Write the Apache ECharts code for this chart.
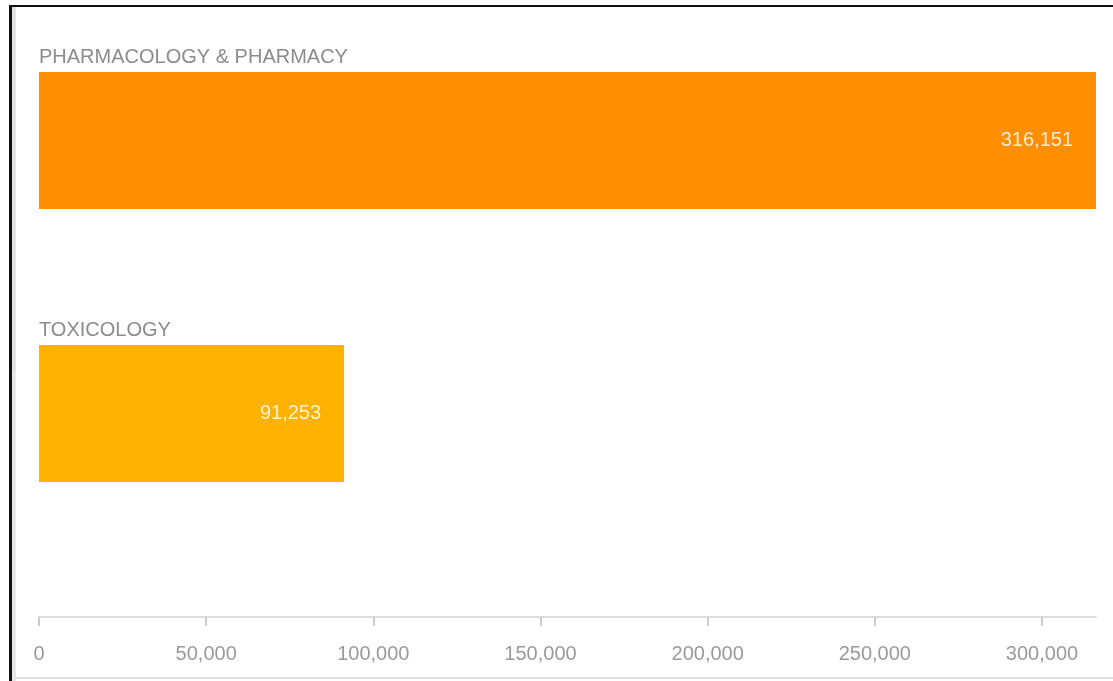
<!DOCTYPE html>
<html>
<head>
<meta charset="utf-8">
<script src="https://cdn.jsdelivr.net/npm/echarts@6/dist/echarts.min.js"></script>
<style>
html,body{margin:0;padding:0;background:#fff;}
#chart{width:1113px;height:681px;}
</style>
</head>
<body>
<div id="chart"></div>
<script>
const categories = ['PHARMACOLOGY & PHARMACY', 'TOXICOLOGY'];
const values = [316151, 91253];
const barColors = ['#FF8F00', '#FFB300'];
const tickInterval = 50000;

const chart = echarts.init(document.getElementById('chart'), null, {renderer: 'canvas'});
const FONT = 'Liberation Sans, Arial, sans-serif';
const fmt = v => Number(v).toLocaleString('en-US');

chart.setOption({
  animation: false,
  backgroundColor: '#ffffff',
  grid: {left: 39, right: 17, top: 4, bottom: 131, containLabel: false},
  xAxis: {
    type: 'value',
    min: 0,
    max: Math.max.apply(null, values),
    interval: tickInterval,
    offset: 67,
    splitLine: {show: false},
    axisLine: {show: true, lineStyle: {color: '#dddddd', width: 2}},
    axisTick: {show: true, length: 9, lineStyle: {color: '#cccccc', width: 2}},
    axisLabel: {
      show: true, showMaxLabel: false, margin: 27,
      color: '#9a9a9a', fontSize: 20, fontFamily: FONT,
      formatter: v => fmt(v)
    }
  },
  yAxis: {
    type: 'category',
    data: categories,
    inverse: true,
    show: false
  },
  series: [
    {
      type: 'bar',
      barWidth: 137,
      data: values.map((v, i) => ({value: v, itemStyle: {color: barColors[i]}})),
      label: {
        show: true,
        position: 'insideRight',
        distance: 23,
        color: 'rgba(255,255,255,0.82)',
        fontSize: 20,
        fontFamily: FONT,
        formatter: p => fmt(p.value)
      },
      z: 2
    },
    {
      type: 'bar',
      barWidth: 137,
      barGap: '-100%',
      silent: true,
      data: values,
      itemStyle: {color: 'rgba(0,0,0,0)'},
      label: {
        show: true,
        position: [0, -15],
        align: 'left',
        verticalAlign: 'middle',
        color: '#8c8c8c',
        fontSize: 20,
        fontFamily: FONT,
        formatter: p => p.name
      },
      z: 3
    }
  ],
  graphic: [
    {type: 'rect', shape: {x: 11, y: 7, width: 5, height: 363}, style: {fill: '#e2e2e2'}, silent: true},
    {type: 'rect', shape: {x: 11, y: 370, width: 5, height: 311}, style: {fill: '#e8e8e8'}, silent: true},
    {type: 'rect', shape: {x: 9, y: 5, width: 3, height: 676}, style: {fill: '#111111'}, silent: true},
    {type: 'rect', shape: {x: 9, y: 5, width: 1104, height: 2}, style: {fill: '#111111'}, silent: true},
    {type: 'rect', shape: {x: 15, y: 677, width: 1098, height: 2}, style: {fill: '#e0e0e0'}, silent: true}
  ]
});
</script>
</body>
</html>
